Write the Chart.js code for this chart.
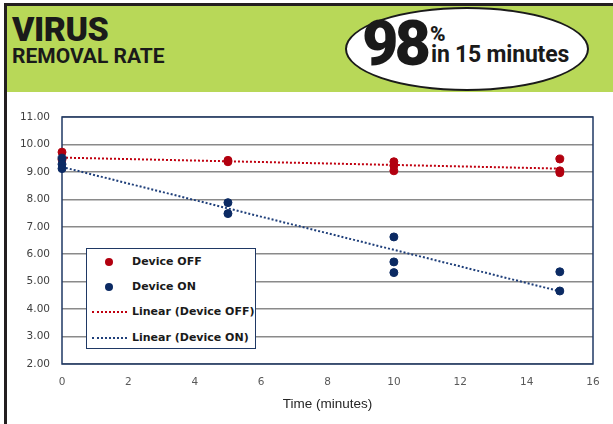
<!DOCTYPE html>
<html>
<head>
<meta charset="utf-8">
<script src="https://cdn.jsdelivr.net/npm/chart.js@4.4.0/dist/chart.umd.min.js"></script>
<style>
  html, body { margin: 0; padding: 0; background: #fff; }
  #page { position: relative; width: 613px; height: 424px; overflow: hidden; background: #fff; }
  #frameTop { position: absolute; left: 4px; top: 3px; width: 609px; height: 3px; background: #231f20; }
  #frameLeft { position: absolute; left: 4px; top: 3px; width: 3px; height: 421px; background: #231f20; }
  #banner { position: absolute; left: 7px; top: 6px; width: 606px; height: 86px; background: #b8d858; }
  #t1 { position: absolute; left: 5px; top: 5px; font: 900 34px Roboto, sans-serif; color: #1a1a1a; letter-spacing: -0.5px; line-height: 36px; }
  #t2 { position: absolute; left: 5px; top: 39px; font: 700 21px Roboto, sans-serif; color: #1a1a1a; letter-spacing: 0px; line-height: 22px; }
  #oval { position: absolute; left: 338px; top: 1px; width: 240px; height: 80px; border: 2px solid #1a1a1a; border-radius: 50%; background: #fff; }
  #big { position: absolute; left: 15px; top: 0px; font: 900 63px Roboto, sans-serif; color: #1a1a1a; letter-spacing: -4px; line-height: 70px; }
  #pct { position: absolute; left: 83px; top: 14px; font: 900 21px Roboto, sans-serif; color: #1a1a1a; line-height: 22px; }
  #mins { position: absolute; left: 84px; top: 33px; font: 700 23px Roboto, sans-serif; color: #1a1a1a; letter-spacing: -0.2px; line-height: 26px; }
  #wrap { position: absolute; left: 7px; top: 95px; width: 606px; height: 329px; }
  #legend { position: absolute; left: 86px; top: 248px; width: 168px; height: 99px; border: 1.5px solid #1f3864; background: #fff;
            font: bold 11px "DejaVu Sans", sans-serif; color: #1a1a1a; }
  .row { position: absolute; left: 0; height: 20px; width: 168px; }
  .row span.txt { position: absolute; left: 45px; top: 3px; }
  .dot { position: absolute; left: 18px; top: 6px; width: 8px; height: 8px; border-radius: 50%; }
  .dash { position: absolute; left: 5px; top: 9px; width: 35px; height: 0; border-top: 2px dotted; }
</style>
</head>
<body>
<div id="page">
  <div id="banner">
    <div id="t1">VIRUS</div>
    <div id="t2">REMOVAL RATE</div>
    <div id="oval">
      <div id="big">98</div>
      <div id="pct">%</div>
      <div id="mins">in 15 minutes</div>
    </div>
  </div>
  <div id="frameTop"></div>
  <div id="frameLeft"></div>
  <div id="wrap"><canvas id="chart" width="606" height="329"></canvas></div>
  <div id="legend">
    <div class="row" style="top:3px"><div class="dot" style="background:#b2000f"></div><span class="txt">Device OFF</span></div>
    <div class="row" style="top:28px"><div class="dot" style="background:#0b2a63"></div><span class="txt">Device ON</span></div>
    <div class="row" style="top:53px"><div class="dash" style="border-color:#c0000f"></div><span class="txt">Linear (Device OFF)</span></div>
    <div class="row" style="top:79px"><div class="dash" style="border-color:#1f3f7a"></div><span class="txt">Linear (Device ON)</span></div>
  </div>
</div>
<script>
// measured values (log reduction) at each sampling time
const offTimes = [0, 0, 5, 5, 10, 10, 10, 15, 15, 15];
const offValues = [9.72, 9.45, 9.42, 9.37, 9.37, 9.23, 9.04, 9.47, 9.04, 8.97];
const onTimes = [0, 0, 0, 5, 5, 10, 10, 10, 15, 15];
const onValues = [9.50, 9.28, 9.12, 7.88, 7.48, 6.63, 5.72, 5.33, 5.36, 4.66];

// trend line end points as drawn in the picture
const trendTimes = [0, 15];
const trendOff = [9.52, 9.12];
const trendOn = [9.18, 4.65];

const xTicks = [0, 2, 4, 6, 8, 10, 12, 14, 16];
const yMin = 2, yMax = 11;

const pts = (xs, ys) => xs.map((x, i) => ({ x: x, y: ys[i] }));

const plotBox = {
  id: 'plotBox',
  beforeDatasetsDraw(chart) {
    const { ctx, chartArea: a } = chart;
    ctx.save();
    ctx.strokeStyle = '#1f3864';
    ctx.lineWidth = 1.5;
    ctx.strokeRect(a.left, a.top, a.right - a.left, a.bottom - a.top);
    ctx.restore();
  }
};

new Chart(document.getElementById('chart').getContext('2d'), {
  type: 'scatter',
  data: {
    datasets: [
      { label: 'Linear (Device OFF)', type: 'line', data: pts(trendTimes, trendOff), borderColor: '#c0000f',
        borderWidth: 2, borderDash: [2, 2], pointRadius: 0, fill: false, order: 3 },
      { label: 'Linear (Device ON)', type: 'line', data: pts(trendTimes, trendOn), borderColor: '#1f3f7a',
        borderWidth: 2, borderDash: [2, 2], pointRadius: 0, fill: false, order: 4 },
      { label: 'Device OFF', data: pts(offTimes, offValues), backgroundColor: '#b2000f', borderColor: '#b2000f',
        pointRadius: 4, clip: false, order: 2 },
      { label: 'Device ON', data: pts(onTimes, onValues), backgroundColor: '#0b2a63', borderColor: '#0b2a63',
        pointRadius: 4, clip: false, order: 1 },
    ],
  },
  options: {
    responsive: false,
    animation: false,
    devicePixelRatio: 1,
    layout: { padding: { top: 22, right: 20, left: 0, bottom: 0 } },
    plugins: { legend: { display: false }, tooltip: { enabled: false } },
    scales: {
      x: {
        type: 'linear', min: 0, max: 16,
        afterBuildTicks: (s) => { s.ticks = xTicks.map((v) => ({ value: v })); },
        grid: { display: false, drawTicks: false },
        border: { display: false },
        ticks: { padding: 12, color: '#595959', font: { family: 'DejaVu Sans', size: 10.5 } },
        title: { display: true, text: 'Time (minutes)', color: '#262626', padding: { top: 4, bottom: 12 },
                 font: { family: 'Liberation Sans', size: 13.5 } },
        afterFit: (s) => { s.height = 60; },
      },
      y: {
        min: yMin, max: yMax,
        ticks: { stepSize: 1, padding: 12, color: '#404040', font: { family: 'DejaVu Sans', size: 10.5 },
                 callback: (v) => v.toFixed(2) },
        grid: { color: '#8a8a8a', lineWidth: 1.5, drawTicks: false },
        border: { display: false },
        afterFit: (s) => { s.width = 55; },
      },
    },
  },
  plugins: [plotBox],
});
</script>
</body>
</html>
